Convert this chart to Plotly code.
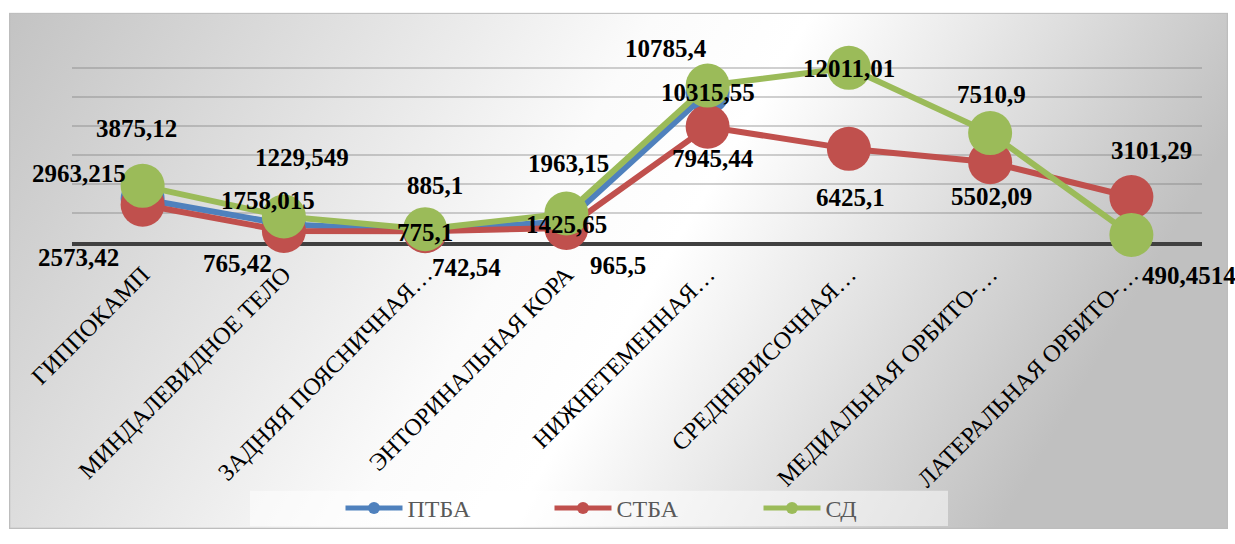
import base64
import plotly.graph_objects as go

# Brain regions (category axis)
categories = [
    "ГИППОКАМП",
    "МИНДАЛЕВИДНОЕ ТЕЛО",
    "ЗАДНЯЯ ПОЯСНИЧНАЯ…",
    "ЭНТОРИНАЛЬНАЯ КОРА",
    "НИЖНЕТЕМЕННАЯ…",
    "СРЕДНЕВИСОЧНАЯ…",
    "МЕДИАЛЬНАЯ ОРБИТО-…",
    "ЛАТЕРАЛЬНАЯ ОРБИТО-…",
]

# Series values
ptba = [2963.215, 1229.549, 775.1, 1425.65, 10315.55, None, None, None]
stba = [2573.42, 765.42, 742.54, 965.5, 7945.44, 6425.1, 5502.09, 3101.29]
sd = [3875.12, 1758.015, 885.1, 1963.15, 10785.4, 12011.01, 7510.9, 490.4514]

# Pixel offsets (dx, dy) of each data label from its marker
ptba_label_offsets = [(-64, 26), (18, 67), (0, -2), (0, -3), (0, 0)]
stba_label_offsets = [(-64, -53), (-46, -33), (41, -36), (52, -37),
                      (5, -32), (2, -49), (1, -34), (20, 47)]
sd_label_offsets = [(-6, 57), (-16, 16), (10, 44), (2, 50),
                    (-42, 37), (0, -1), (1, 39), (58, -41)]

BLUE = "#4f81bd"
RED = "#c0504d"
GREEN = "#9bbb59"
SERIF = "Liberation Serif, 'Times New Roman', Times, serif"

W, H = 1235, 544
ML, MR, MT, MB = 72, 33, 39, 297
PW, PH = W - ML - MR, H - MT - MB


def px_to_paper(px, py):
    return (px - ML) / PW, (H - MB - py) / PH


fig = go.Figure()
series = [
    ("ПТБА", ptba, BLUE, ptba_label_offsets),
    ("СТБА", stba, RED, stba_label_offsets),
    ("СД", sd, GREEN, sd_label_offsets),
]
for name, vals, color, _ in series:
    fig.add_trace(go.Scatter(
        x=categories, y=vals, name=name, mode="lines+markers",
        line=dict(color=color, width=6),
        marker=dict(color=color, size=44),
        cliponaxis=False, connectgaps=False,
    ))

annotations = []
for name, vals, color, offs in series:
    for cat, v, (dx, dy) in zip(categories, vals, offs):
        if v is None:
            continue
        annotations.append(dict(
            x=cat, y=v, xref="x", yref="y", showarrow=False,
            text="<b>" + str(v).replace(".", ",") + "</b>",
            xshift=dx, yshift=dy, xanchor="center", yanchor="middle",
            font=dict(family=SERIF, size=25, color="black"),
        ))

# Chart-area background: grey-white-grey gradient with thin border
bx0, by0, bx1, by1 = 9, 12, 1228, 541
bw, bh = bx1 - bx0, by1 - by0
svg = (
    f"<svg xmlns='http://www.w3.org/2000/svg' width='{bw}' height='{bh}' "
    f"viewBox='0 0 {bw} {bh}' preserveAspectRatio='none'>"
    "<defs><linearGradient id='g' x1='0' y1='0' x2='1' y2='0.25'>"
    "<stop offset='0' stop-color='#c3c3c3'/>"
    "<stop offset='0.5' stop-color='#fbfbfb'/>"
    "<stop offset='0.62' stop-color='#ffffff'/>"
    "<stop offset='1' stop-color='#c0c0c0'/>"
    "</linearGradient></defs>"
    f"<rect x='0.5' y='0.5' width='{bw - 1}' height='{bh - 1}' fill='url(#g)' "
    "stroke='#bdbdbd' stroke-width='1.5'/></svg>"
)
src = "data:image/svg+xml;base64," + base64.b64encode(svg.encode()).decode()
ix, iy = px_to_paper(bx0, by0)
fig.add_layout_image(dict(
    source=src, xref="paper", yref="paper", x=ix, y=iy,
    sizex=bw / PW, sizey=bh / PH, xanchor="left", yanchor="top",
    sizing="stretch", layer="below",
))

# Legend panel
lx0, ly0 = px_to_paper(250, 502)
lx1, ly1 = px_to_paper(948, 538)
fig.add_shape(type="rect", xref="paper", yref="paper",
              x0=lx0, y0=ly1, x1=lx1, y1=ly0,
              fillcolor="rgba(255,255,255,0.5)", line=dict(width=0),
              layer="below")
lcx, lcy = px_to_paper(654, 520)

fig.update_layout(
    width=W, height=H,
    margin=dict(l=ML, r=MR, t=MT, b=MB),
    paper_bgcolor="white", plot_bgcolor="rgba(0,0,0,0)",
    annotations=annotations,
    showlegend=True,
    legend=dict(
        orientation="h", x=lcx, y=lcy, xanchor="center", yanchor="middle",
        bgcolor="rgba(0,0,0,0)", font=dict(family=SERIF, size=24, color="#595959"),
        itemsizing="constant", itemwidth=57, entrywidth=137,
    ),
    xaxis=dict(
        type="category", range=[-0.5, len(categories) - 0.5],
        showgrid=False, zeroline=False,
        showline=True, linecolor="#404040", linewidth=4,
        ticks="", tickangle=-45, layer="below traces", ticklabelstandoff=5,
        tickfont=dict(family=SERIF, size=24, color="black"),
    ),
    yaxis=dict(
        range=[0, 14000], dtick=2000, showticklabels=False,
        showgrid=True, gridcolor="rgba(120,120,120,0.35)", gridwidth=2,
        zeroline=False, showline=False, layer="below traces",
    ),
)

fig.write_html("out.html")
